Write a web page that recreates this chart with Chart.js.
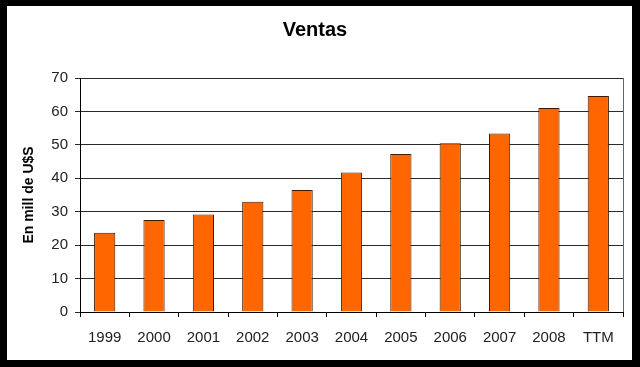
<!DOCTYPE html>
<html>
<head>
<meta charset="utf-8">
<script src="https://cdn.jsdelivr.net/npm/chart.js@4/dist/chart.umd.min.js"></script>
<style>
  html, body { margin: 0; padding: 0; background: #000; }
  #frame { position: absolute; left: 7px; top: 6px; width: 625px; height: 354px; background: #fff; }
</style>
</head>
<body>
<div id="frame"><canvas id="ventasChart" width="625" height="354"></canvas></div>
<script>
const years = ['1999', '2000', '2001', '2002', '2003', '2004', '2005', '2006', '2007', '2008', 'TTM'];
const ventas = [23.7, 27.5, 29.2, 33.0, 36.5, 41.7, 47.3, 50.5, 53.4, 61.0, 64.6];
const yTicks = [0, 10, 20, 30, 40, 50, 60, 70];

// thin gray line closing the plot on the right side
const rightEdge = {
    id: 'rightEdge',
    afterDraw(chart) {
        const { ctx, chartArea } = chart;
        ctx.save();
        ctx.strokeStyle = '#666';
        ctx.lineWidth = 1;
        ctx.beginPath();
        ctx.moveTo(Math.round(chartArea.right) + 0.5, chartArea.top);
        ctx.lineTo(Math.round(chartArea.right) + 0.5, chartArea.bottom);
        ctx.stroke();
        ctx.restore();
    }
};

const ctx = document.getElementById('ventasChart').getContext('2d');
new Chart(ctx, {
    type: 'bar',
    data: {
        labels: years,
        datasets: [{
            label: 'Ventas',
            data: ventas,
            backgroundColor: '#ff6600',
            borderColor: '#3d1a00',
            borderWidth: 1,
            borderSkipped: 'bottom',
            barPercentage: 0.43,
            categoryPercentage: 1.0
        }]
    },
    options: {
        responsive: false,
        animation: false,
        layout: { padding: { left: 0, right: 9, top: 0, bottom: 0 } },
        plugins: {
            legend: { display: false },
            tooltip: { enabled: false },
            title: {
                display: true,
                text: 'Ventas',
                color: '#000',
                font: { family: 'Liberation Sans', size: 20, weight: 'bold', lineHeight: 1.2 },
                padding: { top: 12, bottom: 36 }
            }
        },
        scales: {
            x: {
                afterFit: (scale) => { scale.height = 48; },
                grid: {
                    offset: true,
                    drawOnChartArea: false,
                    drawTicks: true,
                    tickLength: 5,
                    color: '#000'
                },
                border: { color: '#000', width: 1 },
                ticks: {
                    color: '#222',
                    padding: 12,
                    font: { family: 'Liberation Sans', size: 15 }
                }
            },
            y: {
                min: 0,
                max: 70,
                afterFit: (scale) => { scale.width = 73; },
                afterBuildTicks: (scale) => { scale.ticks = yTicks.map(v => ({ value: v })); },
                grid: {
                    color: '#2a2a2a',
                    tickLength: 5,
                    drawTicks: true
                },
                border: { color: '#000', width: 1 },
                ticks: {
                    color: '#222',
                    padding: 7,
                    font: { family: 'Liberation Sans', size: 15 }
                },
                title: {
                    display: true,
                    text: 'En mill de U$S',
                    color: '#000',
                    font: { family: 'Liberation Sans', size: 14, weight: 'bold', lineHeight: 1.2 },
                    padding: { top: 14, bottom: 0 }
                }
            }
        }
    },
    plugins: [rightEdge]
});
</script>
</body>
</html>
